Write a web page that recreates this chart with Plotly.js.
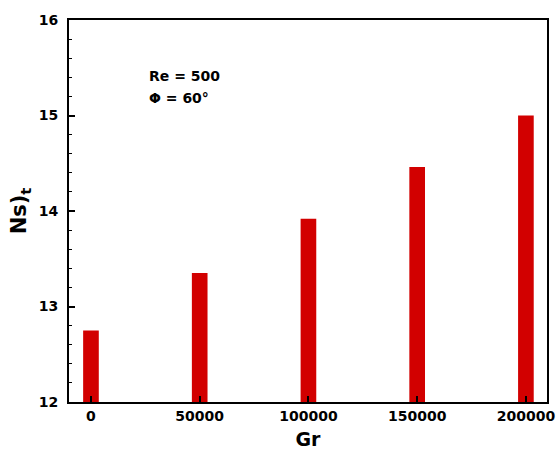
<!DOCTYPE html>
<html><head><meta charset="utf-8">
<script src="https://cdn.plot.ly/plotly-3.0.1.min.js"></script>
<style>body{margin:0;padding:0;background:#fff}#chart{width:557px;height:451px}</style>
</head><body><div id="chart"></div>
<script>
const grValues = [0, 50000, 100000, 150000, 200000];
const nsValues = [12.75, 13.35, 13.92, 14.46, 15.0];
const xTickVals = [0, 50000, 100000, 150000, 200000];
const xTickText = ["0", "50000", "100000", "150000", "200000"];
const yTickVals = [12, 13, 14, 15, 16];
const baseline = 12;

const font = "DejaVu Sans, Verdana, sans-serif";
const trace = {
  type: "bar",
  x: grValues,
  y: nsValues.map(v => v - baseline),
  base: baseline,
  width: 7200,
  marker: {color: "#d20000", line: {width: 0}},
  hoverinfo: "skip"
};

const layout = {
  width: 557, height: 451,
  margin: {l: 69, r: 10, t: 20, b: 49},
  paper_bgcolor: "#fff", plot_bgcolor: "#fff",
  showlegend: false,
  font: {family: font, color: "#000"},
  xaxis: {
    range: [-10100, 209700],
    tickvals: xTickVals, ticktext: xTickText,
    ticks: "inside", ticklen: 6, tickwidth: 2, tickcolor: "#000",
    showline: true, linewidth: 2, linecolor: "#000", mirror: true,
    showgrid: false, zeroline: false,
    tickfont: {family: font, size: 14, color: "#000", weight: "bold"},
    title: {text: "<b>Gr</b>", font: {family: font, size: 19, color: "#000"}, standoff: 10}
  },
  yaxis: {
    range: [12, 16],
    tickvals: yTickVals,
    ticks: "inside", ticklen: 6, tickwidth: 2, tickcolor: "#000",
    minor: {dtick: 0.2, ticks: "inside", ticklen: 3, tickwidth: 1, tickcolor: "#000", showgrid: false},
    showline: true, linewidth: 2, linecolor: "#000", mirror: true,
    showgrid: false, zeroline: false,
    ticklabelstandoff: 6,
    tickfont: {family: font, size: 14, color: "#000", weight: "bold"},
    title: {text: "<b>Ns)<sub>t</sub></b>", font: {family: font, size: 21, color: "#000"}, standoff: 6}
  },
  annotations: [
    {xref: "paper", yref: "paper", x: 0.163, y: 0.853, xanchor: "left", yanchor: "middle",
     text: "<b>Re = 500</b>", showarrow: false, font: {family: font, size: 14, color: "#000"}},
    {xref: "paper", yref: "paper", x: 0.163, y: 0.795, xanchor: "left", yanchor: "middle",
     text: "<b>Φ = 60°</b>", showarrow: false, font: {family: font, size: 14, color: "#000"}}
  ]
};
Plotly.newPlot("chart", [trace], layout, {displayModeBar: false, staticPlot: true});
</script></body></html>
